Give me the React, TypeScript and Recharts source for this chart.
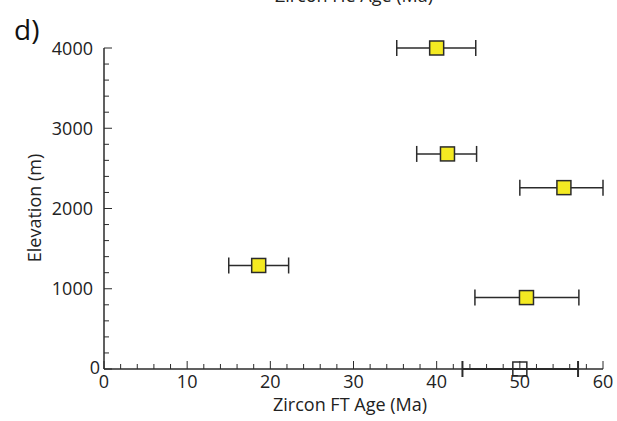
import React from "react";
import { ScatterChart, Scatter, XAxis, YAxis, ErrorBar } from "recharts";

// Zircon FT age (Ma) samples
const ftAge = [40.0, 41.3, 55.3, 18.6, 50.8];
const elevation = [4000, 2680, 2260, 1290, 890];
const ageLow = [35.2, 37.6, 50.0, 15.0, 44.6];
const ageHigh = [44.7, 44.8, 60.0, 22.2, 57.1];

// open (hollow) sample
const openAge = [50.0];
const openElevation = [0];
const openLow = [43.1];
const openHigh = [57.0];

const xTicks = Array.from({ length: 31 }, (_, i) => i * 2);
const yTicks = Array.from({ length: 21 }, (_, i) => i * 200);

const filled = ftAge.map((x, i) => ({
  x,
  y: elevation[i],
  err: [x - ageLow[i], ageHigh[i] - x],
}));
const open = openAge.map((x, i) => ({
  x,
  y: openElevation[i],
  err: [x - openLow[i], openHigh[i] - x],
}));

const FONT = "'Open Sans', sans-serif";
const INK = "#2b2b2b";

const XTick = (props: any) => {
  const { x, y, payload } = props;
  const v = payload.value;
  const major = v % 10 === 0;
  return (
    <g>
      <line x1={x} x2={x} y1={y} y2={y - (major ? 8 : 5)} stroke={INK} strokeWidth={1} />
      {major && (
        <text x={x} y={y + 19} textAnchor="middle" fontFamily={FONT} fontSize={18} fill="#222">
          {v}
        </text>
      )}
    </g>
  );
};

const YTick = (props: any) => {
  const { x, y, payload } = props;
  const v = payload.value;
  const major = v % 1000 === 0;
  return (
    <g>
      <line x1={x} x2={x + (major ? 8 : 5)} y1={y} y2={y} stroke={INK} strokeWidth={1} />
      {major && (
        <text
          x={v === 0 ? x - 4 : x - 11}
          y={v === 0 ? y + 5 : y + 6.5}
          textAnchor="end"
          fontFamily={FONT}
          fontSize={18}
          fill="#222"
        >
          {v}
        </text>
      )}
    </g>
  );
};

const Square = (props: any) => {
  const { cx, cy, fill } = props;
  return (
    <rect x={cx - 7} y={cy - 7} width={14} height={14} fill={fill} stroke={INK} strokeWidth={1.5} />
  );
};

export default function App() {
  return (
    <div style={{ position: "absolute", left: 0, top: 0, width: 617, height: 421, background: "#fff" }}>
      <ScatterChart width={617} height={421} margin={{ top: 48, right: 14, bottom: 0, left: 0 }}>
        <XAxis
          type="number"
          dataKey="x"
          domain={[0, 60]}
          ticks={xTicks}
          interval={0}
          height={52}
          tickSize={0}
          tickMargin={0}
          tickLine={false}
          tick={<XTick />}
          axisLine={{ stroke: INK, strokeWidth: 1.5 }}
        />
        <YAxis
          type="number"
          dataKey="y"
          domain={[0, 4000]}
          ticks={yTicks}
          interval={0}
          width={104}
          tickSize={0}
          tickMargin={0}
          tickLine={false}
          tick={<YTick />}
          axisLine={{ stroke: INK, strokeWidth: 1.5 }}
        />
        <Scatter data={open} fill="none" shape={<Square />} isAnimationActive={false}>
          <ErrorBar dataKey="err" direction="x" width={8} stroke={INK} strokeWidth={2} />
        </Scatter>
        <Scatter data={filled} fill="#f4ea22" shape={<Square />} isAnimationActive={false}>
          <ErrorBar dataKey="err" direction="x" width={8} stroke={INK} strokeWidth={1.5} />
        </Scatter>
        <text x={354} y={2} textAnchor="middle" fontFamily={FONT} fontSize={18} fill="#222">
          Zircon He Age (Ma)
        </text>
        <text x={14} y={40} fontFamily={FONT} fontSize={28} fill="#111">
          d)
        </text>
        <text x={350} y={411} textAnchor="middle" fontFamily={FONT} fontSize={18} fill="#222">
          Zircon FT Age (Ma)
        </text>
        <text
          x={41}
          y={208}
          textAnchor="middle"
          transform="rotate(-90, 41, 208)"
          fontFamily={FONT}
          fontSize={18}
          fill="#222"
        >
          Elevation (m)
        </text>
      </ScatterChart>
    </div>
  );
}
